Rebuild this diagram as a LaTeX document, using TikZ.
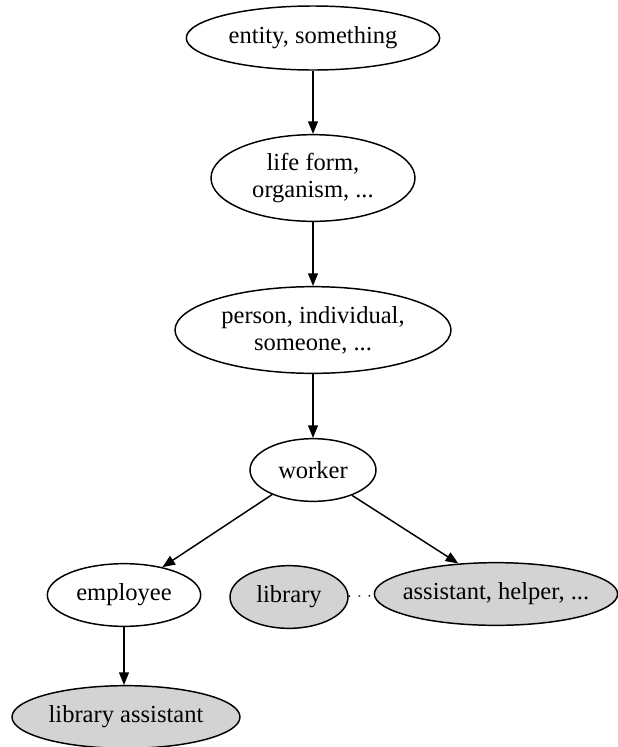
\documentclass[tikz,border=0pt]{standalone}
\usepackage{fontspec}
\setmainfont{Liberation Serif}
\usetikzlibrary{shapes.geometric,arrows.meta}
\definecolor{synsetgray}{RGB}{211,211,211}
\tikzset{
    synset/.style={draw,ellipse,inner sep=0pt,line width=1.1pt,align=center,
        font=\fontsize{18.4}{20.25}\selectfont},
    wordnode/.style={synset,fill=synsetgray},
    hyp/.style={line width=1.1pt,-{Triangle[length=9.5pt,width=7.5pt]}},
}
\begin{document}
\begin{tikzpicture}[x=0.75pt,y=-0.75pt]
    \useasboundingbox (0,0) rectangle (618,747);
    \node [synset,minimum width=190pt,minimum height=48pt] (entity) at (313,38) {entity, something};
    \node [synset,minimum width=153pt,minimum height=65pt] (life) at (313,178) {life form,\\organism, ...};
    \node [synset,minimum width=207pt,minimum height=65pt] (person) at (313,330) {person, individual,\\someone, ...};
    \node [synset,minimum width=94.5pt,minimum height=47pt] (worker) at (313,470) {worker};
    \node [synset,minimum width=115pt,minimum height=47pt] (employee) at (124,595) {employee};
    \node [wordnode,minimum width=88.5pt,minimum height=47pt] (library) at (289,597) {library};
    \node [wordnode,inner xsep=-5.4pt,minimum width=182pt,minimum height=47pt] (assistant) at (496,594) {assistant, helper, ...};
    \node [wordnode,minimum width=171pt,minimum height=47pt] (libassist) at (126,717) {library assistant};
    \draw [hyp] (entity) -- (life);
    \draw [hyp] (life) -- (person);
    \draw [hyp] (person) -- (worker);
    \draw [hyp] (worker.211) -- (employee.36);
    \draw [hyp] (worker.327) -- (assistant.141);
    \draw [hyp] (employee) -- (employee |- libassist.north);
    \draw [line width=1.1pt,dash pattern=on 1pt off 6.5pt] (library) -- (assistant);
\end{tikzpicture}
\end{document}
